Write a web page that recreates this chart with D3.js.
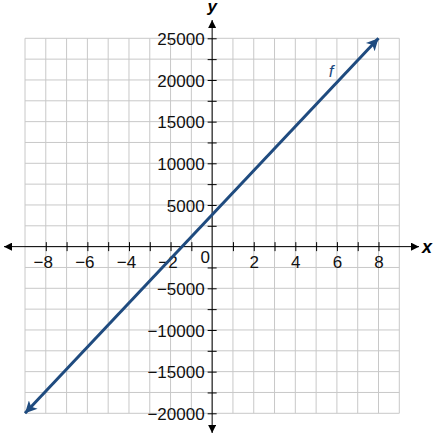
<!DOCTYPE html>
<html>
<head>
<meta charset="utf-8">
<script src="https://cdn.jsdelivr.net/npm/d3@7"></script>
<style>
  body { margin: 0; background: #fff; }
  text { font-family: "Liberation Sans", Arial, sans-serif; }
</style>
</head>
<body>
<div class="graph"></div>
<script>
// grid and tick values
var xGrid = d3.range(-9, 10, 1);
var yGrid = d3.range(-20000, 25001, 2500);
var xLabels = [-8, -6, -4, -2, 2, 4, 6, 8];
var yLabels = [-20000, -15000, -10000, -5000, 5000, 10000, 15000, 20000, 25000];

// the line f, drawn between its two arrow tips
var lineX = [-9, 8];
var lineY = [-20000, 25000];

var svgWidth = 436;
var svgHeight = 436;
var lineColor = "#1f4b7f";

var svg = d3.select(".graph")
  .append("svg")
  .attr("width", svgWidth)
  .attr("height", svgHeight);

var xScale = d3.scaleLinear().domain([-9, 9]).range([25, 399.3]);
var yScale = d3.scaleLinear().domain([-20000, 25000]).range([413.3, 38.3]);

// arrow markers
var defs = svg.append("defs");
defs.append("marker")
  .attr("id", "axisArrow")
  .attr("viewBox", "0 0 10 10")
  .attr("refX", 10)
  .attr("refY", 5)
  .attr("markerWidth", 12)
  .attr("markerHeight", 8)
  .attr("markerUnits", "userSpaceOnUse")
  .attr("orient", "auto-start-reverse")
  .append("path")
  .attr("d", "M0,0 L10,5 L0,10 Z")
  .attr("fill", "#000");

defs.append("marker")
  .attr("id", "lineArrow")
  .attr("viewBox", "0 0 10 10")
  .attr("refX", 10)
  .attr("refY", 5)
  .attr("markerWidth", 16)
  .attr("markerHeight", 12)
  .attr("markerUnits", "userSpaceOnUse")
  .attr("orient", "auto-start-reverse")
  .append("path")
  .attr("d", "M0,0 L10,5 L0,10 L2.5,5 Z")
  .attr("fill", lineColor);

// grid
var grid = svg.append("g");
grid.selectAll("line.v")
  .data(xGrid)
  .enter()
  .append("line")
  .attr("x1", d => xScale(d))
  .attr("x2", d => xScale(d))
  .attr("y1", yScale(25000))
  .attr("y2", yScale(-20000))
  .attr("stroke", "#c8c8c8")
  .attr("stroke-width", 1);

grid.selectAll("line.h")
  .data(yGrid)
  .enter()
  .append("line")
  .attr("x1", xScale(-9))
  .attr("x2", xScale(9))
  .attr("y1", d => yScale(d))
  .attr("y2", d => yScale(d))
  .attr("stroke", "#c8c8c8")
  .attr("stroke-width", 1);

// axes lines with arrows
var x0 = xScale(0);
var y0 = yScale(0);

svg.append("line")
  .attr("x1", 4)
  .attr("x2", 419)
  .attr("y1", y0)
  .attr("y2", y0)
  .attr("stroke", "#000")
  .attr("stroke-width", 1)
  .attr("marker-start", "url(#axisArrow)")
  .attr("marker-end", "url(#axisArrow)");

svg.append("line")
  .attr("x1", x0)
  .attr("x2", x0)
  .attr("y1", 433)
  .attr("y2", 20)
  .attr("stroke", "#000")
  .attr("stroke-width", 1)
  .attr("marker-start", "url(#axisArrow)")
  .attr("marker-end", "url(#axisArrow)");

// x axis ticks and labels
var xAxis = d3.axisBottom(xScale)
  .tickValues(xGrid.filter(d => d !== 0 && Math.abs(d) !== 9))
  .tickSize(4.5)
  .tickFormat(d => (xLabels.indexOf(d) >= 0 ? d3.format("")(d) : ""));

var xAxisG = svg.append("g")
  .attr("transform", `translate(0, ${y0})`)
  .call(xAxis);
xAxisG.select(".domain").remove();
xAxisG.selectAll(".tick line").attr("y1", -4.5).attr("stroke", "#000");
xAxisG.selectAll(".tick text")
  .attr("y", 21)
  .attr("dy", 0)
  .attr("dx", d => (d < 0 ? -3 : 0))
  .attr("font-size", 17)
  .attr("font-family", "Liberation Sans, Arial, sans-serif")
  .attr("fill", "#111");

// y axis ticks and labels
var yAxis = d3.axisLeft(yScale)
  .tickValues(yGrid.filter(d => d !== 0))
  .tickSize(4.5)
  .tickPadding(3)
  .tickFormat(d => (yLabels.indexOf(d) >= 0 ? d3.format("")(d) : ""));

var yAxisG = svg.append("g")
  .attr("transform", `translate(${x0}, 0)`)
  .call(yAxis);
yAxisG.select(".domain").remove();
yAxisG.selectAll(".tick line").attr("x1", 4.5).attr("stroke", "#000");
yAxisG.selectAll(".tick text")
  .attr("dy", "0.36em")
  .attr("font-size", 17)
  .attr("font-family", "Liberation Sans, Arial, sans-serif")
  .attr("fill", "#111");

// origin label
svg.append("text")
  .attr("x", x0 - 7)
  .attr("y", y0 + 16)
  .attr("text-anchor", "middle")
  .attr("font-size", 17)
  .attr("fill", "#111")
  .text("0");

// axis names
svg.append("text")
  .attr("x", 427)
  .attr("y", y0 + 6)
  .attr("text-anchor", "middle")
  .attr("font-size", 18)
  .attr("font-weight", "bold")
  .attr("font-style", "italic")
  .text("x");

svg.append("text")
  .attr("x", x0)
  .attr("y", 12)
  .attr("text-anchor", "middle")
  .attr("font-size", 17)
  .attr("font-weight", "bold")
  .attr("font-style", "italic")
  .text("y");

// the function line
var pts = lineX.map((d, i) => [d, lineY[i]]);
svg.append("path")
  .datum(pts)
  .attr("d", d3.line().x(d => xScale(d[0])).y(d => yScale(d[1])))
  .attr("fill", "none")
  .attr("stroke", lineColor)
  .attr("stroke-width", 3)
  .attr("marker-start", "url(#lineArrow)")
  .attr("marker-end", "url(#lineArrow)");

// line label
svg.append("text")
  .attr("x", 331)
  .attr("y", 77)
  .attr("text-anchor", "middle")
  .attr("font-size", 17)
  .attr("font-style", "italic")
  .attr("fill", lineColor)
  .text("f");
</script>
</body>
</html>
